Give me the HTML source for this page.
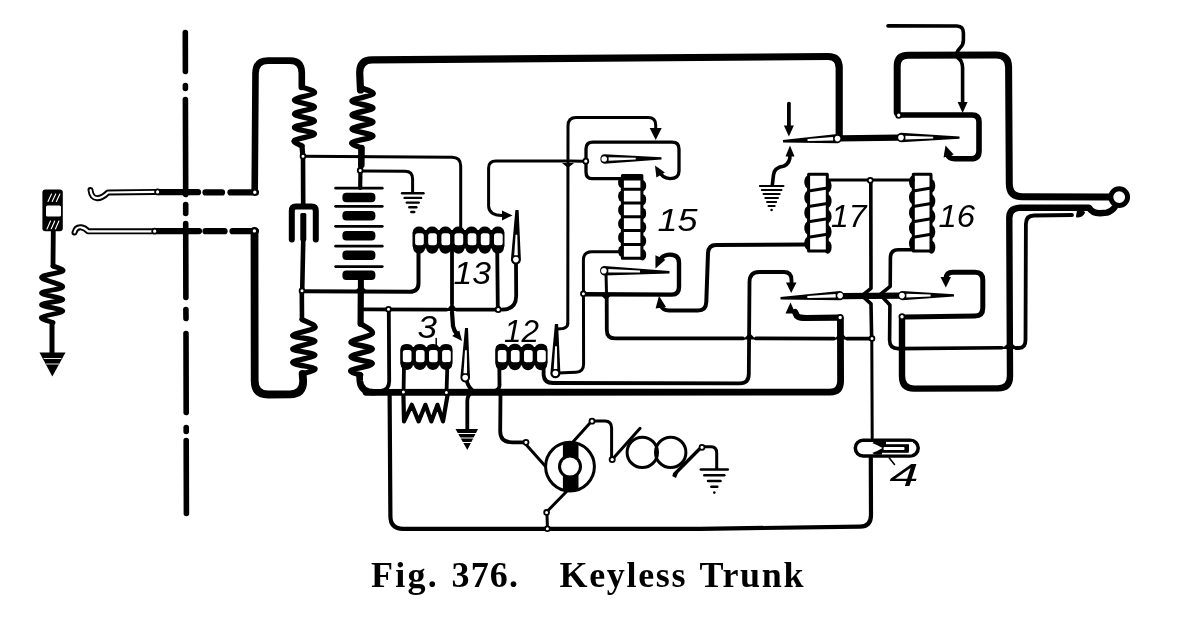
<!DOCTYPE html>
<html><head><meta charset="utf-8"><style>
html,body{margin:0;padding:0;background:#fff;}
body{width:1177px;height:617px;overflow:hidden;position:relative;}
svg{position:absolute;left:0;top:0;will-change:transform;}
.cap{position:absolute;left:0;top:0;font-family:"Liberation Serif",serif;white-space:pre;color:#000;}
</style></head><body>
<svg width="1177" height="617" viewBox="0 0 1177 617">
<g fill="none" stroke="#000" stroke-linecap="round" stroke-linejoin="round">
<path d="M185.3,32.5 L185.4,71.5" stroke-width="5.6" stroke-linecap="round" />
<path d="M185.4,85.5 L185.4,88.5" stroke-width="5.6" stroke-linecap="round" />
<path d="M185.4,99.5 L185.7,194.5" stroke-width="5.6" stroke-linecap="round" />
<path d="M185.7,204.5 L185.7,213.5" stroke-width="5.6" stroke-linecap="round" />
<path d="M185.7,223.5 L185.9,297.5" stroke-width="5.6" stroke-linecap="round" />
<path d="M185.9,309.5 L186.0,318.5" stroke-width="5.6" stroke-linecap="round" />
<path d="M186.0,333.5 L186.2,412.5" stroke-width="5.6" stroke-linecap="round" />
<path d="M186.2,427.5 L186.2,431.5" stroke-width="5.6" stroke-linecap="round" />
<path d="M186.2,440.5 L186.4,513.5" stroke-width="5.6" stroke-linecap="round" />
<rect x="42.4" y="189.6" width="20.4" height="41.6" rx="3" fill="#000" stroke="none"/>
<rect x="46" y="205.6" width="15" height="11" rx="1.5" fill="#fff" stroke="none"/>
<line x1="48.0" y1="201.5" x2="51.5" y2="194" stroke="#fff" stroke-width="1.1"/>
<line x1="47.0" y1="229" x2="50.5" y2="221" stroke="#fff" stroke-width="1.1"/>
<line x1="52.2" y1="201.5" x2="55.7" y2="194" stroke="#fff" stroke-width="1.1"/>
<line x1="51.2" y1="229" x2="54.7" y2="221" stroke="#fff" stroke-width="1.1"/>
<line x1="56.4" y1="201.5" x2="59.9" y2="194" stroke="#fff" stroke-width="1.1"/>
<line x1="55.4" y1="229" x2="58.9" y2="221" stroke="#fff" stroke-width="1.1"/>
<path d="M53.3,231.0 L53.0,266.0" stroke-width="4.8" stroke-linecap="round" />
<path d="M53.0,266.0 C54.6,266.8 64.7,269.1 62.8,271.0 C60.9,272.9 41.5,274.8 41.5,277.4 C41.5,280.0 62.8,284.2 62.8,286.8 C62.8,289.4 41.5,290.9 41.5,293.0 C41.5,295.1 62.8,297.6 62.8,299.5 C62.8,301.4 41.5,302.8 41.5,304.7 C41.5,306.6 62.8,308.9 62.8,311.0 C62.8,313.1 43.1,315.5 41.5,317.4 C39.9,319.3 51.1,321.7 53.0,322.6" stroke-width="4.8" stroke-linejoin="round" stroke-linecap="round"/>
<path d="M52.0,322.6 L52.0,354.0" stroke-width="5" stroke-linecap="round" />
<polygon points="39.5,352.5 65.5,352.5 52.3,376.5" fill="#000" stroke="none"/>
<line x1="44" y1="358.5" x2="61" y2="358.5" stroke="#fff" stroke-width="0.9"/>
<line x1="46.5" y1="364" x2="58.5" y2="364" stroke="#fff" stroke-width="0.9"/>
<path d="M90.5,190 Q91.5,198 97,198.2 Q102,198.3 108,192.5 L155,191.9" stroke-width="6.0"/>
<path d="M90.5,190 Q91.5,198 97,198.2 Q102,198.3 108,192.5 L155,191.9" stroke="#fff" stroke-width="2.2"/>
<path d="M74.5,232.5 Q76,226.8 81,227.3 Q85,227.8 88,231.3 L152,231.3" stroke-width="6.0"/>
<path d="M74.5,232.5 Q76,226.8 81,227.3 Q85,227.8 88,231.3 L152,231.3" stroke="#fff" stroke-width="2.2"/>
<path d="M160.0,192.2 L198.0,192.2" stroke-width="6.2" stroke-linecap="round" />
<path d="M205.5,192.4 L222.0,192.4" stroke-width="6.2" stroke-linecap="round" />
<path d="M230.5,192.4 L256.0,192.4" stroke-width="6.2" stroke-linecap="round" />
<path d="M157.5,231.1 L199.0,231.1" stroke-width="6.2" stroke-linecap="round" />
<path d="M205.5,231.2 L224.5,231.2" stroke-width="6.2" stroke-linecap="round" />
<path d="M232.5,231.2 L256.0,231.1" stroke-width="6.2" stroke-linecap="round" />
<path d="M254.7,192.2 L255.5,73 Q255.8,60.6 268,60.6 L290,60.6 Q301.8,60.6 301.8,73 L301.8,87" stroke-width="6.6" />
<path d="M302.0,87.0 C304.1,88.0 315.8,90.8 314.5,93.0 C313.2,95.2 294.4,97.7 294.4,100.0 C294.4,102.3 314.5,104.7 314.5,107.0 C314.5,109.3 294.4,111.7 294.4,114.0 C294.4,116.3 314.5,118.8 314.5,121.0 C314.5,123.2 294.4,125.3 294.4,127.5 C294.4,129.7 314.5,131.8 314.5,134.0 C314.5,136.2 296.5,138.5 294.4,140.5 C292.3,142.5 300.7,145.1 302.0,146.0" stroke-width="5.2" stroke-linejoin="round" stroke-linecap="round"/>
<path d="M302.0,146.0 L302.8,156.0" stroke-width="5.2" stroke-linecap="round" />
<path d="M303.0,156.0 L303.2,204.0" stroke-width="4.6" stroke-linecap="round" />
<path d="M291.8,239.5 L291.8,211 Q291.8,206.6 296,206.6 L311.6,206.6 Q315.8,206.6 315.8,211 L315.8,239.5" stroke-width="6.0" />
<rect x="300.3" y="213" width="6" height="28" rx="1.5" fill="#000" stroke="none"/>
<path d="M303.3,238.0 L302.2,291.0" stroke-width="4.6" stroke-linecap="round" />
<path d="M254.5,231 L254.7,381 Q254.7,394.5 268,394.5 L290,394.4 Q303.2,394.2 303.2,381 L302.6,374" stroke-width="7.8" />
<path d="M302.0,374.0 C304.2,373.1 316.6,370.4 315.0,368.5 C313.4,366.6 292.6,364.9 292.6,362.6 C292.6,360.4 315.0,357.3 315.0,355.0 C315.0,352.7 292.6,351.3 292.6,349.0 C292.6,346.7 315.0,343.3 315.0,341.0 C315.0,338.7 292.6,337.6 292.6,335.4 C292.6,333.2 313.4,330.2 315.0,327.6 C316.6,325.0 304.2,320.9 302.0,319.5" stroke-width="5.2" stroke-linejoin="round" stroke-linecap="round"/>
<path d="M302.0,319.5 L301.8,291.0" stroke-width="4.6" stroke-linecap="round" />
<path d="M360.5,90 L359.7,73 Q359.7,59.9 372,59.9 L828,56.5 Q839.2,56.5 839.2,68 L839.2,136" stroke-width="7.2" />
<path d="M361.5,88.0 C363.4,89.0 374.6,91.8 373.0,94.0 C371.4,96.2 352.0,98.7 352.0,101.0 C352.0,103.3 373.0,105.7 373.0,108.0 C373.0,110.3 352.0,112.7 352.0,115.0 C352.0,117.3 373.0,119.7 373.0,122.0 C373.0,124.3 352.0,126.7 352.0,129.0 C352.0,131.3 373.0,133.8 373.0,136.0 C373.0,138.2 353.9,140.5 352.0,142.5 C350.1,144.5 359.9,147.1 361.5,148.0" stroke-width="5.4" stroke-linejoin="round" stroke-linecap="round"/>
<path d="M361.5,148.0 L361.3,165.0" stroke-width="6.6" stroke-linecap="round" />
<path d="M360.5,165.0 L360.2,188.0" stroke-width="4.2" stroke-linecap="round" />
<path d="M303,156.3 L452,157.3 Q460.7,157.3 460.7,166 L460.7,229" stroke-width="3.0" />
<path d="M362,171 L405,171.2 Q412.6,171.2 412.6,179 L412.6,192" stroke-width="3.0" />
<line x1="402.1" y1="193.2" x2="423.5" y2="193.2" stroke-width="2.4"/>
<line x1="404.6" y1="197.9" x2="421.1" y2="197.9" stroke-width="2.4"/>
<line x1="406.8" y1="202.6" x2="418.8" y2="202.6" stroke-width="2.4"/>
<line x1="409.3" y1="207.3" x2="416.3" y2="207.3" stroke-width="2.4"/>
<line x1="411.3" y1="212.0" x2="414.3" y2="212.0" stroke-width="2.4"/>
<path d="M335.6,188.2 L382.3,188.2" stroke-width="2.7" stroke-linecap="round" />
<path d="M335.6,206.3 L382.3,206.3" stroke-width="2.7" stroke-linecap="round" />
<path d="M335.6,226.3 L382.3,226.3" stroke-width="2.7" stroke-linecap="round" />
<path d="M335.6,246.2 L382.3,246.2" stroke-width="2.7" stroke-linecap="round" />
<path d="M335.6,266.6 L382.3,266.6" stroke-width="2.7" stroke-linecap="round" />
<rect x="342.4" y="192.7" width="33" height="9.5" rx="4" fill="#000" stroke="none"/>
<rect x="342.4" y="211.1" width="33" height="9.5" rx="4" fill="#000" stroke="none"/>
<rect x="342.4" y="231" width="33" height="9.5" rx="4" fill="#000" stroke="none"/>
<rect x="342.4" y="250.5" width="33" height="9.5" rx="4" fill="#000" stroke="none"/>
<rect x="342.4" y="270.5" width="33" height="9.5" rx="4" fill="#000" stroke="none"/>
<path d="M360.9,280.0 L360.9,292.0" stroke-width="6" stroke-linecap="round" />
<polygon points="354,292 368,292 361,285" fill="#000" stroke="none"/>
<path d="M302,291.2 L410,291.8 Q418.5,291.8 418.5,283 L418.5,249" stroke-width="4.0" />
<path d="M360.8,292.0 L360.6,323.7" stroke-width="6.2" stroke-linecap="round" />
<path d="M360.6,323.7 C362.6,325.3 373.9,330.4 372.3,333.5 C370.7,336.6 351.0,339.6 351.0,342.2 C351.0,344.8 372.3,346.6 372.3,349.0 C372.3,351.4 351.0,354.4 351.0,356.8 C351.0,359.2 372.3,361.3 372.3,363.6 C372.3,365.9 352.9,368.5 351.0,370.4 C349.1,372.3 359.0,374.2 360.6,375.0" stroke-width="5.4" stroke-linejoin="round" stroke-linecap="round"/>
<path d="M359.5,375 L359.8,381 Q361,392.3 374,392.3" stroke-width="6.6" />
<path d="M362.6,309.3 L446.7,309.6" stroke-width="3.8" />
<path d="M456.5,309.6 L496,309.6" stroke-width="3.8" />
<polygon points="446,311 458,311 452,303" fill="#000" stroke="none"/>
<path d="M388.8,311.5 L389.2,381 Q389.2,390 381,391" stroke-width="3.8" />
<path d="M389.6,392 L390.4,516 Q390.4,528.8 403,528.8 L700,528.8 L860,526.7 Q871,526.7 871,515 L870.8,458" stroke-width="4.2" />
<path d="M366,392.3 L830,392.2 Q840.6,392 840.6,381 L840.4,319" stroke-width="6.8" />
<ellipse cx="419.1" cy="231.1" rx="6.1" ry="4.5" fill="#000" stroke="none"/>
<ellipse cx="419.1" cy="247.6" rx="6.1" ry="6.1" fill="#000" stroke="none"/>
<ellipse cx="432.2" cy="231.1" rx="6.1" ry="4.5" fill="#000" stroke="none"/>
<ellipse cx="432.2" cy="247.6" rx="6.1" ry="6.1" fill="#000" stroke="none"/>
<ellipse cx="445.4" cy="231.1" rx="6.1" ry="4.5" fill="#000" stroke="none"/>
<ellipse cx="445.4" cy="247.6" rx="6.1" ry="6.1" fill="#000" stroke="none"/>
<ellipse cx="458.5" cy="231.1" rx="6.1" ry="4.5" fill="#000" stroke="none"/>
<ellipse cx="458.5" cy="247.6" rx="6.1" ry="6.1" fill="#000" stroke="none"/>
<ellipse cx="471.6" cy="231.1" rx="6.1" ry="4.5" fill="#000" stroke="none"/>
<ellipse cx="471.6" cy="247.6" rx="6.1" ry="6.1" fill="#000" stroke="none"/>
<ellipse cx="484.8" cy="231.1" rx="6.1" ry="4.5" fill="#000" stroke="none"/>
<ellipse cx="484.8" cy="247.6" rx="6.1" ry="6.1" fill="#000" stroke="none"/>
<ellipse cx="497.9" cy="231.1" rx="6.1" ry="4.5" fill="#000" stroke="none"/>
<ellipse cx="497.9" cy="247.6" rx="6.1" ry="6.1" fill="#000" stroke="none"/>
<rect x="412.5" y="230.1" width="92.0" height="18.5" rx="3" fill="#000" stroke="none"/>
<rect x="415.1" y="233.2" width="8.7" height="12.1" rx="2.5" fill="#fff" stroke="none"/>
<rect x="428.2" y="233.2" width="8.7" height="12.1" rx="2.5" fill="#fff" stroke="none"/>
<rect x="441.4" y="233.2" width="8.7" height="12.1" rx="2.5" fill="#fff" stroke="none"/>
<rect x="454.5" y="233.2" width="8.7" height="12.1" rx="2.5" fill="#fff" stroke="none"/>
<rect x="467.7" y="233.2" width="8.7" height="12.1" rx="2.5" fill="#fff" stroke="none"/>
<rect x="480.8" y="233.2" width="8.7" height="12.1" rx="2.5" fill="#fff" stroke="none"/>
<rect x="494.0" y="233.2" width="8.7" height="12.1" rx="2.5" fill="#fff" stroke="none"/>
<path d="M452.0,248.0 L452.0,304.0" stroke-width="3.8" stroke-linecap="round" />
<path d="M452,312 L453,326 Q454,331 457,334" stroke-width="4.2" />
<polygon points="462.0,341.0 452.2,336.0 459.3,330.4" fill="#000" stroke="none"/>
<path d="M497.2,248.0 L497.8,307.0" stroke-width="3.8" stroke-linecap="round" />
<path d="M516,262 L516.2,296 Q516,309.6 502,309.6" stroke-width="3.8" />
<path d="M566,161 L496,161 Q488.6,161 488.6,168 L488.6,206 Q489,215.4 502,215.4 L505,215.4" stroke-width="3.0" />
<polygon points="512.5,215.4 502.0,220.4 502.0,210.4" fill="#000" stroke="none"/>
<path d="M567.8,323.4 L568,126 Q568,117.6 576,117.6 L648,117.6 Q655.7,117.6 655.7,125 L655.7,131" stroke-width="3.0" />
<polygon points="655.7,140.0 649.7,128.0 661.7,128.0" fill="#000" stroke="none"/>
<polygon points="562,163 574,163 568,168" fill="#000" stroke="none"/>
<path d="M567.8,323.4 Q567.8,327 563,328.5 L557.5,329" stroke-width="3.0" />
<path d="M557.5,373 L576,372.2 Q583.6,372 583.6,364 L583.4,260 Q583.4,251.7 592,251.7 L622.4,251.7" stroke-width="3.0" />
<path d="M622.6,178.6 L592,178.6 Q586,178.6 586,172 L586,149 Q586,142.2 593,142.2 L672,142.2 Q679,142.2 679,149 L679,171 Q679,178.6 670,178.6 Q662,178 659,171" stroke-width="3.3" />
<polygon points="655.0,165.5 664.9,172.4 656.4,177.5" fill="#000" stroke="none"/>
<path d="M570,161 L583.3,161.2" stroke-width="3.0" />
<ellipse cx="621.9" cy="182.4" rx="3.8" ry="5.7" fill="#000" stroke="none"/>
<ellipse cx="642.4" cy="185.8" rx="3.8" ry="5.7" fill="#000" stroke="none"/>
<ellipse cx="621.9" cy="196.2" rx="3.8" ry="5.7" fill="#000" stroke="none"/>
<ellipse cx="642.4" cy="199.6" rx="3.8" ry="5.7" fill="#000" stroke="none"/>
<ellipse cx="621.9" cy="210.0" rx="3.8" ry="5.7" fill="#000" stroke="none"/>
<ellipse cx="642.4" cy="213.4" rx="3.8" ry="5.7" fill="#000" stroke="none"/>
<ellipse cx="621.9" cy="223.7" rx="3.8" ry="5.7" fill="#000" stroke="none"/>
<ellipse cx="642.4" cy="227.2" rx="3.8" ry="5.7" fill="#000" stroke="none"/>
<ellipse cx="621.9" cy="237.5" rx="3.8" ry="5.7" fill="#000" stroke="none"/>
<ellipse cx="642.4" cy="241.0" rx="3.8" ry="5.7" fill="#000" stroke="none"/>
<ellipse cx="621.9" cy="251.3" rx="3.8" ry="5.7" fill="#000" stroke="none"/>
<ellipse cx="642.4" cy="254.8" rx="3.8" ry="5.7" fill="#000" stroke="none"/>
<rect x="622.4" y="175.5" width="19.5" height="82.7" fill="#fff" stroke-width="3.0"/>
<line x1="622.4" y1="189.3" x2="641.9" y2="189.3" stroke-width="3.0"/>
<line x1="622.4" y1="203.1" x2="641.9" y2="203.1" stroke-width="3.0"/>
<line x1="622.4" y1="216.8" x2="641.9" y2="216.8" stroke-width="3.0"/>
<line x1="622.4" y1="230.6" x2="641.9" y2="230.6" stroke-width="3.0"/>
<line x1="622.4" y1="244.4" x2="641.9" y2="244.4" stroke-width="3.0"/>
<rect x="622.4" y="175.5" width="19.5" height="5.0" fill="#000" stroke="none"/>
<path d="M606,273 L606.5,293" stroke-width="3.0" />
<path d="M586,294.2 L672,294.6 Q679,294.6 679,287 L679,263 Q679,254.6 670,254.6 Q663,254.6 660,260" stroke-width="4.4" />
<polygon points="655.5,268.5 655.4,255.3 665.4,259.8" fill="#000" stroke="none"/>
<polygon points="600,294.5 612,294.5 606,300" fill="#000" stroke="none"/>
<path d="M606.7,296 L606.8,330 Q606.8,338.4 615,338.4 L743,338.4" stroke-width="3.8" />
<polygon points="743,339.5 756,339.5 749.7,333" fill="#000" stroke="none"/>
<path d="M756,338.4 L834,338.6" stroke-width="3.8" />
<polygon points="834,339.5 848,339.5 841,332" fill="#000" stroke="none"/>
<path d="M847,338.6 L870,338.6" stroke-width="3.8" />
<polygon points="659.0,295.8 666.0,306.9 655.6,308.4" fill="#000" stroke="none"/>
<path d="M661,306 Q663,310.5 669,310.5 L698,310.5 Q706,310.5 706.3,302 L708,253 Q708.5,245 716,245 L809,244.6" stroke-width="4.0" />
<path d="M543.6,366 L543.6,375 Q544.2,383 553,383 L740,383.3 Q748.8,383.3 748.8,374 L749.5,282 Q749.7,272 759,272 L784,272 Q791.5,272 791.5,280 L791.5,284" stroke-width="3.8" />
<polygon points="791.2,293.0 786.0,282.5 796.5,282.5" fill="#000" stroke="none"/>
<path d="M843,296.2 L900,295.6" stroke-width="6.2" />
<path d="M795,312 L797,316 Q799,318 806,318 L838,317.6" stroke-width="6.2" />
<polygon points="790.5,302.5 795.5,313.5 785.5,313.5" fill="#000" stroke="none"/>
<path d="M870.8,182.5 L871,288.3 L862,295.6 L871,303.9 L871.6,336" stroke-width="3.6" />
<path d="M871.8,341 L872.2,438" stroke-width="3.0" />
<path d="M913,249.7 L898,249.8 Q890.4,250 890.4,258 L890.2,286.4 L880,294.6 L889.9,304.9 L889.6,340 Q889.6,348.6 898,348.6 L1002,347.8" stroke-width="3.6" />
<polygon points="1001,349 1019,349 1010,342" fill="#000" stroke="none"/>
<path d="M1016,348 L1019,348 Q1025.5,348 1025.5,340 L1025.9,224 Q1025.9,215.5 1034,215.5 L1072,215" stroke-width="3.8" />
<path d="M946,281 L946,279 Q946,272.2 953,272.2 L975,272.2 Q982.8,272.2 982.8,280 L982.8,308 Q982.8,316 975,316 L905,317" stroke-width="5" />
<polygon points="945.8,287.5 940.5,277.0 951.0,277.0" fill="#000" stroke="none"/>
<path d="M902,319.5 L902,376 Q902,388.6 914,388.6 L998,388.4 Q1010,388.4 1010,376 L1009.3,218 Q1009.3,207.8 1020,207.8 L1089,207.6 Q1092,213 1100,213.2 L1107,212.6 Q1112,211 1114.5,207.5" stroke-width="6.4" />
<path d="M897.2,112.5 L897.2,66 Q897.2,55.2 908,55.2 L996,54.9 Q1008.6,54.9 1008.6,67 L1009.3,184 Q1009.5,196.7 1022,196.7 L1111,197" stroke-width="7.0" />
<circle cx="1119.2" cy="197.1" r="8.4" fill="#fff" stroke-width="5"/>
<path d="M1078,210.5 Q1081,209.8 1084,212.5 Q1082,216.5 1077,216.5 Z" fill="#000" stroke="#000" stroke-width="2"/>
<path d="M901,115 L972,115 Q979,115 979,122 L979,151 Q979,158.8 971,158.8 L955,158.8 Q949,158.8 947.5,154" stroke-width="5.6" />
<polygon points="945.5,145.5 953.7,154.5 943.6,157.5" fill="#000" stroke="none"/>
<path d="M840,138.3 L898,137.7" stroke-width="6.2" />
<path d="M888,25.9 L957,26 Q963.4,26.2 963.4,33 L963.4,40 Q963.4,45 960,48 Q955,53 958,58 Q962.6,61 962.6,68 L962.6,104" stroke-width="3.6" />
<polygon points="962.6,113.0 957.6,102.0 967.6,102.0" fill="#000" stroke="none"/>
<path d="M788.9,103.6 L788.9,128.0" stroke-width="3.8" stroke-linecap="round" />
<polygon points="788.9,136.5 783.9,125.5 793.9,125.5" fill="#000" stroke="none"/>
<polygon points="790.0,145.5 794.5,156.5 785.5,156.5" fill="#000" stroke="none"/>
<path d="M790,154 Q790.5,163 784,166 Q774,167.5 773.5,175 L772.3,185" stroke-width="3.6" />
<line x1="759.9" y1="186.0" x2="783.4" y2="186.0" stroke-width="2.2"/>
<line x1="761.9" y1="190.0" x2="781.4" y2="190.0" stroke-width="2.2"/>
<line x1="763.6" y1="194.0" x2="779.6" y2="194.0" stroke-width="2.2"/>
<line x1="765.4" y1="198.0" x2="777.9" y2="198.0" stroke-width="2.2"/>
<line x1="767.1" y1="202.0" x2="776.1" y2="202.0" stroke-width="2.2"/>
<line x1="768.6" y1="206.0" x2="774.6" y2="206.0" stroke-width="2.2"/>
<circle cx="771.6" cy="210.0" r="1.3" fill="#000" stroke="none"/>
<ellipse cx="808.1" cy="182.0" rx="3.8" ry="6.5" fill="#000" stroke="none"/>
<ellipse cx="827.8" cy="185.8" rx="3.8" ry="6.5" fill="#000" stroke="none"/>
<ellipse cx="808.1" cy="197.3" rx="3.8" ry="6.5" fill="#000" stroke="none"/>
<ellipse cx="827.8" cy="201.1" rx="3.8" ry="6.5" fill="#000" stroke="none"/>
<ellipse cx="808.1" cy="212.7" rx="3.8" ry="6.5" fill="#000" stroke="none"/>
<ellipse cx="827.8" cy="216.5" rx="3.8" ry="6.5" fill="#000" stroke="none"/>
<ellipse cx="808.1" cy="228.0" rx="3.8" ry="6.5" fill="#000" stroke="none"/>
<ellipse cx="827.8" cy="231.8" rx="3.8" ry="6.5" fill="#000" stroke="none"/>
<ellipse cx="808.1" cy="243.3" rx="3.8" ry="6.5" fill="#000" stroke="none"/>
<ellipse cx="827.8" cy="247.2" rx="3.8" ry="6.5" fill="#000" stroke="none"/>
<rect x="808.6" y="174.3" width="18.7" height="76.7" fill="#fff" stroke-width="3.0"/>
<line x1="808.6" y1="191.1" x2="827.3" y2="188.1" stroke-width="3.0"/>
<line x1="808.6" y1="206.5" x2="827.3" y2="203.5" stroke-width="3.0"/>
<line x1="808.6" y1="221.8" x2="827.3" y2="218.8" stroke-width="3.0"/>
<line x1="808.6" y1="237.2" x2="827.3" y2="234.2" stroke-width="3.0"/>
<ellipse cx="912.8" cy="182.0" rx="3.8" ry="6.5" fill="#000" stroke="none"/>
<ellipse cx="931.5" cy="185.8" rx="3.8" ry="6.5" fill="#000" stroke="none"/>
<ellipse cx="912.8" cy="197.3" rx="3.8" ry="6.5" fill="#000" stroke="none"/>
<ellipse cx="931.5" cy="201.1" rx="3.8" ry="6.5" fill="#000" stroke="none"/>
<ellipse cx="912.8" cy="212.7" rx="3.8" ry="6.5" fill="#000" stroke="none"/>
<ellipse cx="931.5" cy="216.5" rx="3.8" ry="6.5" fill="#000" stroke="none"/>
<ellipse cx="912.8" cy="228.0" rx="3.8" ry="6.5" fill="#000" stroke="none"/>
<ellipse cx="931.5" cy="231.8" rx="3.8" ry="6.5" fill="#000" stroke="none"/>
<ellipse cx="912.8" cy="243.3" rx="3.8" ry="6.5" fill="#000" stroke="none"/>
<ellipse cx="931.5" cy="247.2" rx="3.8" ry="6.5" fill="#000" stroke="none"/>
<rect x="913.3" y="174.3" width="17.7" height="76.7" fill="#fff" stroke-width="3.0"/>
<line x1="913.3" y1="191.1" x2="931.0" y2="188.1" stroke-width="3.0"/>
<line x1="913.3" y1="206.5" x2="931.0" y2="203.5" stroke-width="3.0"/>
<line x1="913.3" y1="221.8" x2="931.0" y2="218.8" stroke-width="3.0"/>
<line x1="913.3" y1="237.2" x2="931.0" y2="234.2" stroke-width="3.0"/>
<path d="M827.3,180 L913.3,180" stroke-width="3.0" />
<ellipse cx="406.8" cy="347.9" rx="6.1" ry="4.0" fill="#000" stroke="none"/>
<ellipse cx="406.8" cy="364.4" rx="6.1" ry="5.6" fill="#000" stroke="none"/>
<ellipse cx="419.9" cy="347.9" rx="6.1" ry="4.0" fill="#000" stroke="none"/>
<ellipse cx="419.9" cy="364.4" rx="6.1" ry="5.6" fill="#000" stroke="none"/>
<ellipse cx="432.9" cy="347.9" rx="6.1" ry="4.0" fill="#000" stroke="none"/>
<ellipse cx="432.9" cy="364.4" rx="6.1" ry="5.6" fill="#000" stroke="none"/>
<ellipse cx="446.1" cy="347.9" rx="6.1" ry="4.0" fill="#000" stroke="none"/>
<ellipse cx="446.1" cy="364.4" rx="6.1" ry="5.6" fill="#000" stroke="none"/>
<rect x="400.2" y="346.9" width="52.4" height="18.5" rx="3" fill="#000" stroke="none"/>
<rect x="402.8" y="350.1" width="8.7" height="12.1" rx="2.5" fill="#fff" stroke="none"/>
<rect x="415.9" y="350.1" width="8.7" height="12.1" rx="2.5" fill="#fff" stroke="none"/>
<rect x="429.0" y="350.1" width="8.7" height="12.1" rx="2.5" fill="#fff" stroke="none"/>
<rect x="442.1" y="350.1" width="8.7" height="12.1" rx="2.5" fill="#fff" stroke="none"/>
<path d="M436.2,338.4 L436.2,344.4" stroke-width="1.5" stroke-linecap="round" />
<path d="M404.0,364.0 L403.6,389.5" stroke-width="3.8" stroke-linecap="round" />
<path d="M447.4,364.0 L446.6,390.0" stroke-width="3.8" stroke-linecap="round" />
<path d="M403.4,394.5 L404,421.4 L411.8,404.8 L418.6,421.4 L425.4,404.8 L431.3,421.4 L437.5,404.8 L443,421.4 L447.6,394.8" stroke-width="4.2" />
<path d="M466.5,380 Q468,387 473,391" stroke-width="3.8" />
<path d="M471,393 Q467.3,396 467.3,401 L467.3,430" stroke-width="3.8" />
<polygon points="455.5,429 478,429 467.3,450" fill="#000" stroke="none"/>
<line x1="457" y1="433.5" x2="477" y2="433.5" stroke="#fff" stroke-width="1.1"/>
<line x1="459.5" y1="438" x2="475" y2="438" stroke="#fff" stroke-width="1.1"/>
<line x1="462" y1="442.5" x2="472.5" y2="442.5" stroke="#fff" stroke-width="1.1"/>
<ellipse cx="501.8" cy="347.9" rx="6.1" ry="4.2" fill="#000" stroke="none"/>
<ellipse cx="501.8" cy="364.4" rx="6.1" ry="5.8" fill="#000" stroke="none"/>
<ellipse cx="514.9" cy="347.9" rx="6.1" ry="4.2" fill="#000" stroke="none"/>
<ellipse cx="514.9" cy="364.4" rx="6.1" ry="5.8" fill="#000" stroke="none"/>
<ellipse cx="528.0" cy="347.9" rx="6.1" ry="4.2" fill="#000" stroke="none"/>
<ellipse cx="528.0" cy="364.4" rx="6.1" ry="5.8" fill="#000" stroke="none"/>
<ellipse cx="541.1" cy="347.9" rx="6.1" ry="4.2" fill="#000" stroke="none"/>
<ellipse cx="541.1" cy="364.4" rx="6.1" ry="5.8" fill="#000" stroke="none"/>
<rect x="495.2" y="346.9" width="52.4" height="18.5" rx="3" fill="#000" stroke="none"/>
<rect x="497.8" y="350.1" width="8.7" height="12.1" rx="2.5" fill="#fff" stroke="none"/>
<rect x="510.9" y="350.1" width="8.7" height="12.1" rx="2.5" fill="#fff" stroke="none"/>
<rect x="524.0" y="350.1" width="8.7" height="12.1" rx="2.5" fill="#fff" stroke="none"/>
<rect x="537.1" y="350.1" width="8.7" height="12.1" rx="2.5" fill="#fff" stroke="none"/>
<path d="M499.3,364 L499.5,385 Q499.8,389 495,391" stroke-width="3.8" />
<path d="M500.5,394 L500.2,431 Q500.2,442.3 512,442.3 L523.5,442.3" stroke-width="3.8" />
<text x="453.5" y="284.3" font-size="31" font-family="Liberation Sans" font-style="italic" fill="#000" stroke="none" textLength="37.5" lengthAdjust="spacingAndGlyphs">13</text>
<text x="417.5" y="337.6" font-size="31" font-family="Liberation Sans" font-style="italic" fill="#000" stroke="none" textLength="19.5" lengthAdjust="spacingAndGlyphs">3</text>
<text x="504" y="341.8" font-size="31" font-family="Liberation Sans" font-style="italic" fill="#000" stroke="none" textLength="35" lengthAdjust="spacingAndGlyphs">12</text>
<text x="657.5" y="230.8" font-size="31" font-family="Liberation Sans" font-style="italic" fill="#000" stroke="none" textLength="40.0" lengthAdjust="spacingAndGlyphs">15</text>
<text x="831" y="226.7" font-size="31" font-family="Liberation Sans" font-style="italic" fill="#000" stroke="none" textLength="35.5" lengthAdjust="spacingAndGlyphs">17</text>
<text x="938.5" y="226.7" font-size="31" font-family="Liberation Sans" font-style="italic" fill="#000" stroke="none" textLength="36.5" lengthAdjust="spacingAndGlyphs">16</text>
<text x="889.5" y="485.9" font-size="31" font-family="Liberation Sans" font-style="italic" fill="#000" stroke="none" textLength="29.0" lengthAdjust="spacingAndGlyphs">4</text>
<path d="M526,444.5 L545.6,466.5" stroke-width="3.0" />
<circle cx="570" cy="466.6" r="24.4" fill="#fff" stroke-width="3"/>
<rect x="562.9" y="443" width="15.6" height="47" fill="#000" stroke="none"/>
<circle cx="570" cy="466.6" r="12" fill="#000" stroke="none"/>
<circle cx="570" cy="466.6" r="9" fill="#fff" stroke="none"/>
<path d="M572,443 L590,423" stroke-width="3.0" />
<path d="M594.5,421 L605,421 Q611.6,421.2 611.6,428 L611.6,456.5" stroke-width="3.0" />
<path d="M614,457.5 L640.1,428.3" stroke-width="3" />
<circle cx="642.3" cy="452.4" r="15.2" fill="none" stroke-width="3"/>
<circle cx="670.7" cy="452.4" r="15.2" fill="none" stroke-width="3"/>
<path d="M674.4,474.3 L699.5,449" stroke-width="3.4" />
<polygon points="672,476 680,468 676,478" fill="#000" stroke="none"/>
<path d="M704.5,446.8 L711,446.8 Q716.7,447 716.7,453 L716.7,468.5" stroke-width="3.0" />
<line x1="700.8" y1="469.4" x2="727.8" y2="469.4" stroke-width="2.5"/>
<line x1="704.3" y1="475.2" x2="724.3" y2="475.2" stroke-width="2.5"/>
<line x1="708.0" y1="481.0" x2="720.5" y2="481.0" stroke-width="2.5"/>
<line x1="711.3" y1="486.8" x2="717.3" y2="486.8" stroke-width="2.5"/>
<circle cx="714.3" cy="492.6" r="1.3" fill="#000" stroke="none"/>
<path d="M567.5,490.5 L548.5,510" stroke-width="3.0" />
<path d="M547.0,515.0 L547.4,527.0" stroke-width="3.0" stroke-linecap="round" />
<rect x="855.3" y="440.2" width="62.9" height="15.8" rx="7.9" fill="#fff" stroke-width="3.5"/>
<rect x="872" y="441.5" width="37" height="13" rx="4" fill="#000" stroke="none"/>
<path d="M858,448 Q858,441.9 865,441.9 Q873,441.9 882.5,448 Q873,454 865,454 Q858,454 858,448 Z" fill="#fff" stroke="none"/>
<rect x="883.5" y="447.1" width="21" height="3" rx="1" fill="#fff" stroke="none"/>
<rect x="886" y="441.9" width="27" height="2.3" fill="#fff" stroke="none"/>
<rect x="882" y="452.8" width="30" height="1.6" fill="#fff" stroke="none"/>
<path d="M889.3,458 L894.5,464.5" stroke-width="1.6" />
<text x="371" y="586.5" font-size="36" font-family="Liberation Serif" font-weight="bold" fill="#000" stroke="none" textLength="65.80000000000001" lengthAdjust="spacing">Fig.</text>
<text x="451.5" y="586.5" font-size="36" font-family="Liberation Serif" font-weight="bold" fill="#000" stroke="none" textLength="66.5" lengthAdjust="spacing">376.</text>
<text x="559.5" y="586.5" font-size="36" font-family="Liberation Serif" font-weight="bold" fill="#000" stroke="none" textLength="126.0" lengthAdjust="spacing">Keyless</text>
<text x="699.5" y="586.5" font-size="36" font-family="Liberation Serif" font-weight="bold" fill="#000" stroke="none" textLength="104.0" lengthAdjust="spacing">Trunk</text>
<circle cx="157.6" cy="191.9" r="2.5" fill="#fff" stroke-width="1.8"/>
<circle cx="154.7" cy="231.2" r="2.5" fill="#fff" stroke-width="1.8"/>
<circle cx="302" cy="290.8" r="2.4" fill="#fff" stroke-width="1.8"/>
<circle cx="303" cy="156.3" r="2.4" fill="#fff" stroke-width="1.8"/>
<circle cx="360.2" cy="170.4" r="2.4" fill="#fff" stroke-width="1.8"/>
<circle cx="388.5" cy="309.3" r="2.4" fill="#fff" stroke-width="1.8"/>
<circle cx="498.2" cy="309.6" r="2.6" fill="#fff" stroke-width="1.8"/>
<circle cx="840.2" cy="317.5" r="2.6" fill="#fff" stroke-width="1.8"/>
<path d="M520.9,259.7 L518.6,210.0 L515.4,210.0 L510.9,259.5 A5.0,5.0 0 0 0 520.9,259.7 Z" fill="#000" stroke="none"/>
<path d="M517.8,255.2 L517.3,234.8 L515.6,234.8 L514.2,255.2 Z" fill="#fff" stroke="none"/>
<circle cx="515.9" cy="259.6" r="2.8" fill="#fff" stroke="none"/>
<path d="M560.4,373.4 L558.1,324.0 L554.9,324.0 L550.4,373.2 A5.0,5.0 0 0 0 560.4,373.4 Z" fill="#000" stroke="none"/>
<path d="M557.3,368.9 L556.9,346.2 L555.1,346.2 L553.7,368.9 Z" fill="#fff" stroke="none"/>
<circle cx="555.4" cy="373.3" r="2.8" fill="#fff" stroke="none"/>
<circle cx="583.4" cy="293.7" r="2.4" fill="#fff" stroke-width="1.8"/>
<circle cx="585.8" cy="161.2" r="2.5" fill="#fff" stroke-width="1.8"/>
<path d="M604.2,163.7 L661.5,159.6 L661.5,157.2 L604.2,154.3 A4.8,4.8 0 0 0 604.2,163.7 Z" fill="#000" stroke="none"/>
<path d="M608.6,160.8 L635.7,159.6 L635.7,157.8 L608.6,157.2 Z" fill="#fff" stroke="none"/>
<circle cx="604.2" cy="159.0" r="2.8" fill="#fff" stroke="none"/>
<path d="M603.8,275.4 L669.5,273.4 L669.5,271.0 L604.0,266.0 A4.8,4.8 0 0 0 603.8,275.4 Z" fill="#000" stroke="none"/>
<path d="M608.3,272.6 L640.0,272.4 L640.0,270.6 L608.3,269.0 Z" fill="#fff" stroke="none"/>
<circle cx="603.9" cy="270.7" r="2.8" fill="#fff" stroke="none"/>
<circle cx="872" cy="338.6" r="2.4" fill="#fff" stroke-width="1.8"/>
<path d="M839.9,290.9 L780.4,297.0 L780.6,299.4 L840.3,300.3 A4.8,4.8 0 0 0 839.9,290.9 Z" fill="#000" stroke="none"/>
<path d="M835.6,294.0 L807.3,296.1 L807.4,297.9 L835.8,297.6 Z" fill="#fff" stroke="none"/>
<circle cx="840.1" cy="295.6" r="2.8" fill="#fff" stroke="none"/>
<path d="M902.0,300.3 L954.0,296.6 L954.0,294.2 L902.0,290.9 A4.8,4.8 0 0 0 902.0,300.3 Z" fill="#000" stroke="none"/>
<path d="M906.4,297.4 L930.6,296.4 L930.6,294.6 L906.4,293.8 Z" fill="#fff" stroke="none"/>
<circle cx="902.0" cy="295.6" r="2.8" fill="#fff" stroke="none"/>
<circle cx="902" cy="316.8" r="2.6" fill="#fff" stroke-width="1.8"/>
<circle cx="898.7" cy="115.3" r="2.6" fill="#fff" stroke-width="1.8"/>
<path d="M901.0,142.3 L959.5,138.8 L959.5,136.4 L901.0,132.8 A4.8,4.8 0 0 0 901.0,142.3 Z" fill="#000" stroke="none"/>
<path d="M905.4,139.4 L933.2,138.5 L933.2,136.7 L905.4,135.8 Z" fill="#fff" stroke="none"/>
<circle cx="901.0" cy="137.6" r="2.8" fill="#fff" stroke="none"/>
<circle cx="837.5" cy="138.6" r="2.6" fill="#fff" stroke-width="1.8"/>
<path d="M837.3,133.9 L782.9,140.0 L783.1,142.4 L837.7,143.3 A4.8,4.8 0 0 0 837.3,133.9 Z" fill="#000" stroke="none"/>
<path d="M833.0,137.0 L807.5,139.1 L807.6,140.9 L833.2,140.6 Z" fill="#fff" stroke="none"/>
<circle cx="837.5" cy="138.6" r="2.8" fill="#fff" stroke="none"/>
<circle cx="870.3" cy="180.3" r="2.5" fill="#fff" stroke-width="1.8"/>
<circle cx="403.4" cy="392.1" r="2.4" fill="#fff" stroke-width="1.8"/>
<circle cx="446.4" cy="392.6" r="2.4" fill="#fff" stroke-width="1.8"/>
<path d="M470.0,377.7 L468.0,328.0 L465.0,328.0 L460.4,377.5 A4.8,4.8 0 0 0 470.0,377.7 Z" fill="#000" stroke="none"/>
<path d="M467.1,373.2 L466.8,350.3 L465.0,350.3 L463.5,373.2 Z" fill="#fff" stroke="none"/>
<circle cx="465.2" cy="377.6" r="2.8" fill="#fff" stroke="none"/>
<circle cx="526" cy="442.3" r="2.5" fill="#fff" stroke-width="1.8"/>
<circle cx="592" cy="421.2" r="2.5" fill="#fff" stroke-width="1.8"/>
<circle cx="612.2" cy="459.6" r="2.6" fill="#fff" stroke-width="1.8"/>
<circle cx="702" cy="447.3" r="2.5" fill="#fff" stroke-width="1.8"/>
<circle cx="546.6" cy="512.4" r="2.4" fill="#fff" stroke-width="1.8"/>
<circle cx="547.4" cy="528.8" r="2.4" fill="#fff" stroke-width="1.8"/>
<circle cx="254.8" cy="192.3" r="2.6" fill="#fff" stroke-width="1.8"/>
<circle cx="254.4" cy="230.9" r="2.6" fill="#fff" stroke-width="1.8"/>
</g>
</svg>

</body></html>
